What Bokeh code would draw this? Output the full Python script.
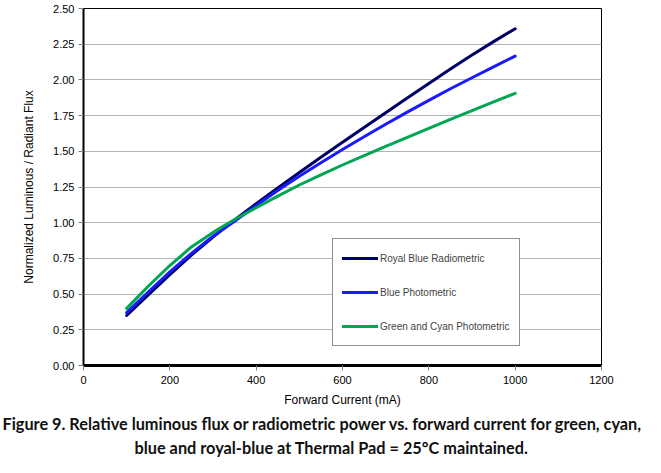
from bokeh.plotting import figure
from bokeh.models import Range1d, Legend, LegendItem, Title, NumeralTickFormatter, FixedTicker
from bokeh.embed import file_html
from bokeh.resources import INLINE

current_ma = [100, 150, 200, 250, 300, 350, 400, 450, 500, 550,
              600, 650, 700, 750, 800, 850, 900, 950, 1000]
royal_blue_radiometric = [0.350, 0.495, 0.637, 0.773, 0.900, 1.020, 1.133, 1.243, 1.351, 1.458,
                          1.563, 1.667, 1.770, 1.873, 1.975, 2.076, 2.174, 2.268, 2.358]
blue_photometric = [0.370, 0.515, 0.655, 0.785, 0.905, 1.010, 1.120, 1.225, 1.325, 1.420,
                    1.512, 1.602, 1.689, 1.774, 1.857, 1.938, 2.015, 2.091, 2.167]
green_cyan_photometric = [0.400, 0.555, 0.700, 0.830, 0.932, 1.022, 1.105, 1.186, 1.264, 1.335,
                          1.404, 1.470, 1.535, 1.598, 1.661, 1.723, 1.785, 1.846, 1.906]

series_names = ["Royal Blue Radiometric", "Blue Photometric", "Green and Cyan Photometric"]
series_colors = ["#000066", "#1a1aff", "#00a651"]
x_ticks = [0, 200, 400, 600, 800, 1000, 1200]
y_ticks = [0.0, 0.25, 0.5, 0.75, 1.0, 1.25, 1.5, 1.75, 2.0, 2.25, 2.5]
caption_lines = [
    "Figure 9.  Relative luminous flux or radiometric power vs. forward current for green, cyan,",
    "blue and royal-blue at Thermal Pad = 25\u00b0C maintained.",
]

FONT = "Liberation Sans"

p = figure(width=645, height=457, output_backend="svg", toolbar_location=None,
           x_range=Range1d(0, 1200), y_range=Range1d(0, 2.5),
           min_border_left=83, min_border_right=44, min_border_top=8, min_border_bottom=0)
p.background_fill_color = "white"
p.border_fill_color = "white"
p.outline_line_color = "black"
p.outline_line_width = 1

p.xgrid.visible = False
p.ygrid.grid_line_color = "#b4b4b4"
p.ygrid.grid_line_width = 1
p.ygrid.ticker = FixedTicker(ticks=y_ticks)

p.xaxis.ticker = FixedTicker(ticks=x_ticks)
p.yaxis.ticker = FixedTicker(ticks=y_ticks)
p.yaxis.formatter = NumeralTickFormatter(format="0.00")
for ax in (p.xaxis, p.yaxis):
    ax.axis_line_color = "black"
    ax.major_tick_line_color = "#808080"
    ax.major_tick_in = 0
    ax.major_tick_out = 5
    ax.minor_tick_line_color = None
    ax.major_label_text_font = FONT
    ax.major_label_text_font_size = "11px"
    ax.major_label_text_color = "black"
    ax.axis_label_text_font = FONT
    ax.axis_label_text_font_size = "12px"
    ax.axis_label_text_font_style = "normal"
    ax.axis_label_text_color = "black"
p.xaxis.axis_line_width = 3
p.yaxis.axis_line_width = 2
p.xaxis.major_label_standoff = 5
p.yaxis.major_label_standoff = 4
p.xaxis.axis_label = "Forward Current (mA)"
p.yaxis.axis_label = "Normalized Luminous / Radiant Flux"
p.xaxis.axis_label_standoff = 6
p.yaxis.axis_label_standoff = 14

renderers = []
for ys, c in zip([royal_blue_radiometric, blue_photometric, green_cyan_photometric], series_colors):
    r = p.line(current_ma, ys, line_color=c, line_width=3, line_cap="round", line_join="round")
    renderers.append(r)

legend = Legend(items=[LegendItem(label=n, renderers=[r]) for n, r in zip(series_names, renderers)],
                location=(249, 19), orientation="vertical",
                border_line_color="#202020", border_line_width=1,
                background_fill_color="white", background_fill_alpha=1.0,
                label_text_font=FONT, label_text_font_size="10px",
                glyph_width=36, glyph_height=20, label_height=20,
                spacing=14, padding=9, margin=0, label_standoff=2)
p.add_layout(legend, "center")

caption1 = Title(text=caption_lines[0], align="left", offset=-81, text_font="Lato",
                 text_font_style="bold", text_font_size="16.3px", text_color="#111111", standoff=4)
caption2 = Title(text=caption_lines[1], align="left", offset=51, text_font="Lato",
                 text_font_style="bold", text_font_size="16.3px", text_color="#111111", standoff=2)
p.add_layout(caption1, "below")
p.add_layout(caption2, "below")

open("out.html", "w").write(file_html(p, INLINE))
